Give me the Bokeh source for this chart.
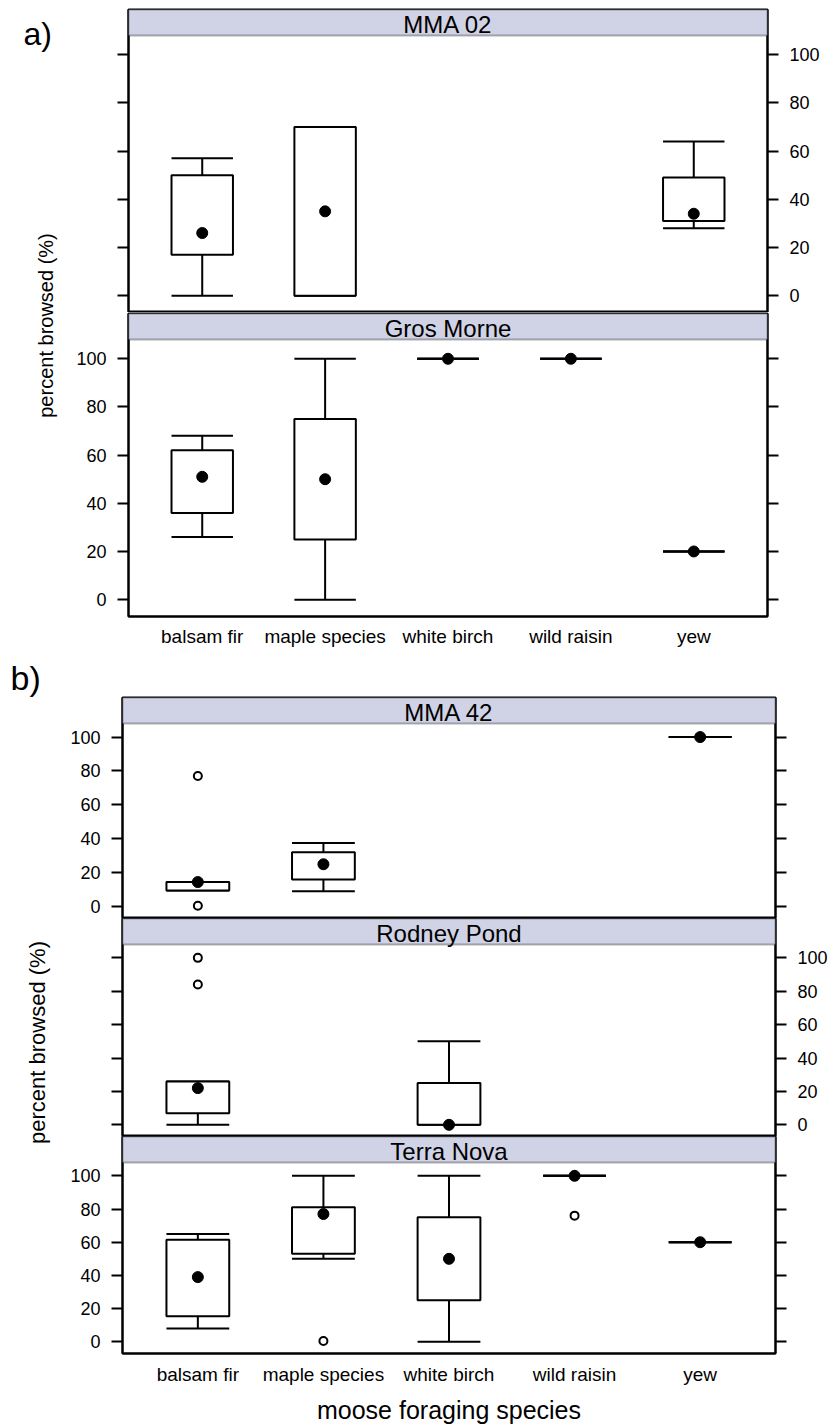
import math
from bokeh.plotting import figure
from bokeh.layouts import column, row
from bokeh.models import Range1d, FixedTicker, LinearAxis, BoxAnnotation, Label, ColumnDataSource
from bokeh.embed import file_html
from bokeh.resources import INLINE

NAN = float("nan")

SPECIES = ["balsam fir", "maple species", "white birch", "wild raisin", "yew"]
Y_TICKS = [0, 20, 40, 60, 80, 100]

# ---- a) MMA 02
MMA02_LOW = [0, 0, NAN, NAN, 28]
MMA02_Q1 = [17, 0, NAN, NAN, 31]
MMA02_Q3 = [50, 70, NAN, NAN, 49]
MMA02_HIGH = [57, 70, NAN, NAN, 64]
MMA02_CENTER = [26, 35, NAN, NAN, 34]
MMA02_OUT_SPECIES = []
MMA02_OUT_VALUES = []

# ---- a) Gros Morne
GROS_LOW = [26, 0, 100, 100, 20]
GROS_Q1 = [36, 25, 100, 100, 20]
GROS_Q3 = [62, 75, 100, 100, 20]
GROS_HIGH = [68, 100, 100, 100, 20]
GROS_CENTER = [51, 50, 100, 100, 20]
GROS_OUT_SPECIES = []
GROS_OUT_VALUES = []

# ---- b) MMA 42
MMA42_LOW = [9.5, 9, NAN, NAN, 100]
MMA42_Q1 = [9.5, 16, NAN, NAN, 100]
MMA42_Q3 = [14.5, 32, NAN, NAN, 100]
MMA42_HIGH = [14.5, 37.5, NAN, NAN, 100]
MMA42_CENTER = [14.5, 25, NAN, NAN, 100]
MMA42_OUT_SPECIES = ["balsam fir", "balsam fir"]
MMA42_OUT_VALUES = [77, 0.5]

# ---- b) Rodney Pond
RODNEY_LOW = [0, NAN, 0, NAN, NAN]
RODNEY_Q1 = [7, NAN, 0, NAN, NAN]
RODNEY_Q3 = [26, NAN, 25, NAN, NAN]
RODNEY_HIGH = [26, NAN, 50, NAN, NAN]
RODNEY_CENTER = [22, NAN, 0, NAN, NAN]
RODNEY_OUT_SPECIES = ["balsam fir", "balsam fir"]
RODNEY_OUT_VALUES = [100, 84]

# ---- b) Terra Nova
TERRA_LOW = [8, 50, 0, 100, 60]
TERRA_Q1 = [15.5, 53, 25, 100, 60]
TERRA_Q3 = [61.5, 81, 75, 100, 60]
TERRA_HIGH = [65, 100, 100, 100, 60]
TERRA_CENTER = [39, 77, 50, 100, 60]
TERRA_OUT_SPECIES = ["maple species", "wild raisin"]
TERRA_OUT_VALUES = [0.5, 76]

FONT = "Liberation Sans"
STRIP_FILL = "#d0d2e5"
Y_LO, Y_HI = -7, 108
STRIP_PX = 26
BOX_W = 0.5
LW = 2


def panel(title, low, q1, q3, high, center, out_sp, out_val, *, data_h, frame_w,
          b_left, b_right, b_top, b_bottom, label_side, x_axis=False, x_title=None,
          x_standoff=10):
    ppu = data_h / (Y_HI - Y_LO)
    y_end = Y_HI + STRIP_PX / ppu
    p = figure(frame_width=frame_w, frame_height=data_h + STRIP_PX,
               x_range=Range1d(0.4, 5.6), y_range=Range1d(Y_LO, y_end),
               x_axis_location=None, y_axis_location=None,
               toolbar_location=None, output_backend="svg",
               min_border_left=b_left, min_border_right=b_right,
               min_border_top=b_top, min_border_bottom=b_bottom,
               outline_line_color="black", outline_line_width=LW,
               background_fill_color="white", border_fill_color="white")
    p.grid.grid_line_color = None

    rows = [(i + 1, lo, a, b, hi, c)
            for i, (lo, a, b, hi, c) in enumerate(zip(low, q1, q3, high, center))
            if not math.isnan(c)]
    xs = [r[0] for r in rows]
    src = ColumnDataSource(dict(
        x=xs,
        left=[x - BOX_W / 2 for x in xs],
        right=[x + BOX_W / 2 for x in xs],
        low=[r[1] for r in rows],
        q1=[r[2] for r in rows],
        q3=[r[3] for r in rows],
        high=[r[4] for r in rows],
        center=[r[5] for r in rows],
    ))
    kw = dict(source=src, line_color="black", line_width=LW)
    p.segment(x0="x", y0="low", x1="x", y1="q1", **kw)
    p.segment(x0="x", y0="q3", x1="x", y1="high", **kw)
    p.segment(x0="left", y0="low", x1="right", y1="low", **kw)
    p.segment(x0="left", y0="high", x1="right", y1="high", **kw)
    p.quad(left="left", right="right", bottom="q1", top="q3", fill_color="white", **kw)
    p.scatter(x="x", y="center", source=src, marker="circle", size=11,
              fill_color="black", line_color="black")
    if out_sp:
        idx = {s: i + 1 for i, s in enumerate(SPECIES)}
        p.scatter(x=[idx[s] for s in out_sp], y=out_val, marker="circle", size=8,
                  fill_color="white", line_color="black", line_width=2)

    for side in ("left", "right"):
        ax = LinearAxis(ticker=FixedTicker(ticks=Y_TICKS),
                        axis_line_color="black", axis_line_width=LW,
                        major_tick_line_color="black", major_tick_line_width=LW,
                        major_tick_in=0, major_tick_out=11,
                        minor_tick_line_color=None,
                        major_label_standoff=11,
                        major_label_text_font=FONT,
                        major_label_text_font_size="18px",
                        major_label_text_color="black" if side == label_side else None)
        p.add_layout(ax, side)

    if x_axis:
        xa = LinearAxis(ticker=FixedTicker(ticks=[1, 2, 3, 4, 5]),
                        major_label_overrides={i + 1: s for i, s in enumerate(SPECIES)},
                        major_tick_in=0, major_tick_out=0,
                        major_tick_line_color=None, minor_tick_line_color=None,
                        axis_line_color="black", axis_line_width=LW,
                        major_label_standoff=x_standoff,
                        major_label_text_font=FONT,
                        major_label_text_font_size="19px",
                        major_label_text_color="black")
        if x_title:
            xa.axis_label = x_title
            xa.axis_label_text_font = FONT
            xa.axis_label_text_font_size = "25px"
            xa.axis_label_text_font_style = "normal"
            xa.axis_label_text_color = "black"
            xa.axis_label_standoff = 8
        p.add_layout(xa, "below")

    p.add_layout(BoxAnnotation(bottom=Y_HI, fill_color=STRIP_FILL, fill_alpha=1,
                               line_color="black", line_width=LW))
    p.add_layout(Label(x=3, y=Y_HI + 11 / ppu, text=title, text_align="center",
                       text_baseline="middle", text_font=FONT,
                       text_font_size="24px", text_color="black"))
    return p


def side_fig(h, letter, letter_x, letter_cy, letter_size, yt_x, yt_cy, yt_size):
    t = figure(width=60, height=h, x_range=Range1d(0, 60), y_range=Range1d(0, h),
               x_axis_location=None, y_axis_location=None, toolbar_location=None,
               output_backend="svg", min_border=0, outline_line_color=None,
               background_fill_color="white", border_fill_color="white")
    t.grid.grid_line_color = None
    t.add_layout(Label(x=letter_x, y=h - letter_cy, text=letter, text_align="left",
                       text_baseline="middle", text_font=FONT,
                       text_font_size=letter_size, text_color="black"))
    t.add_layout(Label(x=yt_x, y=h - yt_cy, text="percent browsed (%)", angle=math.pi / 2,
                       text_align="center", text_baseline="middle", text_font=FONT,
                       text_font_size=yt_size, text_color="black"))
    return t


A1 = panel("MMA 02", MMA02_LOW, MMA02_Q1, MMA02_Q3, MMA02_HIGH, MMA02_CENTER,
           MMA02_OUT_SPECIES, MMA02_OUT_VALUES, data_h=277, frame_w=639,
           b_left=68, b_right=66, b_top=9, b_bottom=0, label_side="right")
A2 = panel("Gros Morne", GROS_LOW, GROS_Q1, GROS_Q3, GROS_HIGH, GROS_CENTER,
           GROS_OUT_SPECIES, GROS_OUT_VALUES, data_h=277, frame_w=639,
           b_left=68, b_right=66, b_top=1, b_bottom=35, label_side="left",
           x_axis=True, x_standoff=9)
HA = 9 + 303 + 1 + 303 + 35
TA = side_fig(HA, "a)", 23, 33, "32px", 45, 325, "20px")

B1 = panel("MMA 42", MMA42_LOW, MMA42_Q1, MMA42_Q3, MMA42_HIGH, MMA42_CENTER,
           MMA42_OUT_SPECIES, MMA42_OUT_VALUES, data_h=195, frame_w=653,
           b_left=62, b_right=58, b_top=46, b_bottom=0, label_side="left")
B2 = panel("Rodney Pond", RODNEY_LOW, RODNEY_Q1, RODNEY_Q3, RODNEY_HIGH, RODNEY_CENTER,
           RODNEY_OUT_SPECIES, RODNEY_OUT_VALUES, data_h=192, frame_w=653,
           b_left=62, b_right=58, b_top=0, b_bottom=0, label_side="right")
B3 = panel("Terra Nova", TERRA_LOW, TERRA_Q1, TERRA_Q3, TERRA_HIGH, TERRA_CENTER,
           TERRA_OUT_SPECIES, TERRA_OUT_VALUES, data_h=191, frame_w=653,
           b_left=62, b_right=58, b_top=0, b_bottom=72, label_side="left",
           x_axis=True, x_title="moose foraging species", x_standoff=10)
HB = 46 + 221 + 218 + 217 + 72
TB = side_fig(HB, "b)", 10, 26, "34px", 37, 391, "22px")

layout = column(row(TA, column(A1, A2)), row(TB, column(B1, B2, B3)))

open("out.html", "w").write(file_html(layout, INLINE))
